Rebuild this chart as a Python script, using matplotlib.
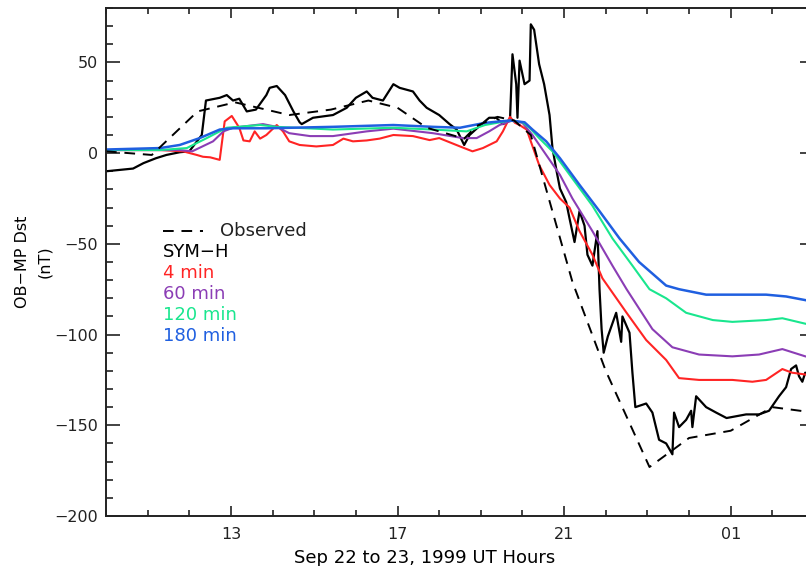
import matplotlib.pyplot as plt
from matplotlib.ticker import MultipleLocator, FixedLocator

# temps en heures depuis le 22 sept 00 UT (24+ = 23 sept)
obs_t = [10.0, 11.1, 12.2, 13.1, 14.4, 15.4, 16.3, 17.0, 17.7, 18.6, 18.9, 19.4, 19.8, 20.2, 21.2, 22.0, 23.05, 24.0, 25.0, 26.0, 27.0]
obs_dst = [1, -1, 23, 28, 21, 24, 29, 25, 14, 8, 15, 20, 18, 10, -71, -120, -173, -157, -153, -140, -143]

symh_t = [10.0, 10.65, 10.9, 11.2, 11.45, 11.77, 12.0, 12.3, 12.4, 12.73, 12.9, 13.05, 13.2, 13.38, 13.6, 13.85,
          13.93, 14.1, 14.3, 14.5, 14.65, 14.7, 14.97, 15.45, 15.78, 16.0, 16.26, 16.4, 16.65, 16.9, 17.05, 17.37,
          17.53, 17.7, 18.0, 18.25, 18.42, 18.6, 18.73, 18.97, 19.2, 19.37, 19.53, 19.7, 19.76, 19.85, 19.88, 19.93,
          20.05, 20.17, 20.2, 20.28, 20.4, 20.52, 20.65, 20.72, 20.82, 20.9, 21.05, 21.13, 21.25, 21.37, 21.49, 21.56,
          21.68, 21.8, 21.85, 21.9, 21.95, 22.05, 22.25, 22.37, 22.4, 22.57, 22.64, 22.71, 22.97, 23.12, 23.28, 23.45,
          23.6, 23.64, 23.76, 23.93, 24.05, 24.08, 24.17, 24.41, 24.65, 24.9, 25.37, 25.68, 25.92, 26.16, 26.33, 26.45,
          26.57, 26.64, 26.72, 26.79, 27.0]
symh = [-10, -8.5, -5.5, -2.8, -1, 0.5, 1, 10, 29, 30.5, 32, 29, 30, 23, 24, 32,
        36, 37, 32, 23, 17, 16, 19.5, 21, 25, 30.5, 34, 30.5, 29, 38, 36, 34,
        29, 25, 21, 16, 13, 4.5, 10, 15, 19.5, 19.5, 16, 18, 54.5, 38, 19.5, 51,
        38, 40, 71, 68, 49, 38, 21, 2.8, -10, -19.5, -27, -36, -49, -32, -40, -56,
        -62, -43, -75, -97, -110, -101, -88, -104, -90, -99, -121, -140, -138, -143, -158, -160,
        -166, -143, -151, -147, -142, -151, -134, -140, -143, -146, -144, -144, -142, -134, -129, -119,
        -117, -123, -126, -121, -124]

m4_t = [10.0, 11.3, 11.85, 12.18, 12.33, 12.5, 12.73, 12.85, 13.02, 13.2, 13.3, 13.45, 13.57, 13.7, 13.85, 14.1,
        14.25, 14.4, 14.65, 15.05, 15.45, 15.7, 15.93, 16.26, 16.57, 16.9, 17.37, 17.77, 18.0, 18.5, 18.8, 19.05,
        19.38, 19.53, 19.7, 19.82, 19.93, 20.1, 20.2, 20.4, 20.65, 20.9, 21.13, 21.37, 21.68, 21.92, 22.5, 22.97,
        23.45, 23.76, 24.24, 25.04, 25.52, 25.85, 26.24, 26.47, 26.79, 27.0]
m4 = [1.7, 1.7, 1, -1, -2, -2.3, -3.7, 17.5, 20.5, 14, 7, 6.5, 12, 8, 10, 15.5,
      12, 6.5, 4.5, 3.7, 4.5, 8, 6.5, 7, 8, 10, 9.4, 7.2, 8.3, 3.7, 1, 2.8,
      6.5, 12, 20, 16.7, 15.5, 13, 6.5, -6.5, -17.5, -25, -30, -43, -56, -69, -88, -103,
      -114, -124, -125, -125, -126, -125, -119, -121, -122, -123]

m60_t = [10.0, 11.77, 12.07, 12.57, 12.82, 13.05, 13.77, 14.1, 14.4, 14.9, 15.45, 16.26, 16.9, 17.85, 18.57, 18.9,
         19.2, 19.45, 19.76, 20.0, 20.24, 20.57, 20.9, 21.2, 21.68, 22.16, 22.5, 23.12, 23.6, 24.24, 25.04, 25.68,
         26.24, 26.79, 27.0]
m60 = [1.7, 1.7, 1, 6.5, 12, 14, 16, 14.5, 11, 9.4, 9.4, 12, 13.5, 11, 8.3, 8.3,
       12, 15.5, 18, 16.7, 10, -1, -12, -25, -43, -62, -75, -97, -107, -111, -112, -111,
       -108, -112, -113]

m120_t = [10.0, 11.3, 11.94, 12.42, 12.9, 13.7, 14.1, 15.45, 16.9, 17.85, 18.66, 19.1, 19.7, 20.0, 20.17, 20.4,
          20.72, 21.2, 21.68, 22.16, 22.64, 23.05, 23.45, 23.93, 24.57, 25.04, 25.85, 26.24, 26.79, 27.0]
m120 = [1.7, 1.7, 2.8, 8.3, 14, 15.5, 14.5, 13, 14, 13, 12, 15.5, 18, 17, 14, 8.3,
        1, -14, -29, -47, -62, -75, -80, -88, -92, -93, -92, -91, -94, -95]

m180_t = [10.0, 11.3, 11.77, 12.25, 12.73, 13.05, 13.85, 15.45, 16.9, 17.85, 18.5, 19.1, 19.7, 20.05, 20.24, 20.57,
          20.9, 21.37, 21.85, 22.33, 22.8, 23.45, 23.76, 24.41, 25.04, 25.85, 26.33, 26.79, 27.0]
m180 = [2, 2.8, 4.5, 8.3, 13, 13.7, 13.7, 14.5, 15.5, 14.5, 14, 16.7, 18, 17, 13, 6.5,
        -2.8, -17.5, -32, -47, -60, -73, -75, -78, -78, -78, -79, -81, -82]

labels = ['Observed', 'SYM-H', '4 min', '60 min', '120 min', '180 min']
colors = ['black', 'black', '#ff2424', '#8b3db5', '#19e68e', '#1f5fe0']

plt.rcParams['font.family'] = 'DejaVu Sans'
plt.rcParams['font.size'] = 11.5

fig = plt.figure(figsize=(8.06, 5.66), dpi=100)
ax = fig.add_axes([106 / 806, 50 / 566, 708 / 806, 508 / 566])

ax.plot(symh_t, symh, color='black', lw=1.6)
ax.plot(m4_t, m4, color=colors[2], lw=1.5)
ax.plot(m60_t, m60, color=colors[3], lw=1.5)
ax.plot(m120_t, m120, color=colors[4], lw=1.5)
ax.plot(m180_t, m180, color=colors[5], lw=1.8)
ax.plot(obs_t, obs_dst, color='black', lw=1.4, dashes=(5.5, 4))

ax.set_xlim(10, 27)
ax.set_ylim(-200, 80)

ax.xaxis.set_major_locator(FixedLocator([13, 17, 21, 25]))
ax.set_xticklabels(['13', '17', '21', '01'])
ax.xaxis.set_minor_locator(MultipleLocator(1))
ax.yaxis.set_major_locator(FixedLocator([-200, -150, -100, -50, 0, 50]))
ax.yaxis.set_minor_locator(MultipleLocator(10))

ax.tick_params(which='both', direction='in', top=True, right=True, width=1.2, colors='#222222')
ax.tick_params(axis='y', which='major', length=10, pad=6)
ax.tick_params(axis='y', which='minor', length=5)
ax.tick_params(axis='x', which='major', length=7, pad=8)
ax.tick_params(axis='x', which='minor', length=4)
for s in ax.spines.values():
    s.set_linewidth(1.4)
    s.set_color('#222222')

ax.set_xlabel('Sep 22 to 23, 1999 UT Hours', fontsize=13, labelpad=3)
ax.xaxis.set_label_coords(0.45, -0.065)
ax.set_ylabel('OB\u2212MP Dst\n(nT)', linespacing=1.6, labelpad=1.5)

# légende faite à la main, texte en couleur
x0, y0, dy = 0.0805, 0.561, 0.0413
ax.plot([x0, x0 + 0.057], [y0, y0], transform=ax.transAxes, color='black', lw=1.4, dashes=(5.5, 4))
ax.text(x0 + 0.08, y0, labels[0], transform=ax.transAxes, va='center', ha='left', color='#222222', fontsize=13)
for i in range(1, len(labels)):
    ax.text(x0, y0 - i * dy, labels[i].replace('-', '\u2212'), transform=ax.transAxes,
            va='center', ha='left', color=colors[i], fontsize=13)

fig.savefig('out.png', dpi=100)
